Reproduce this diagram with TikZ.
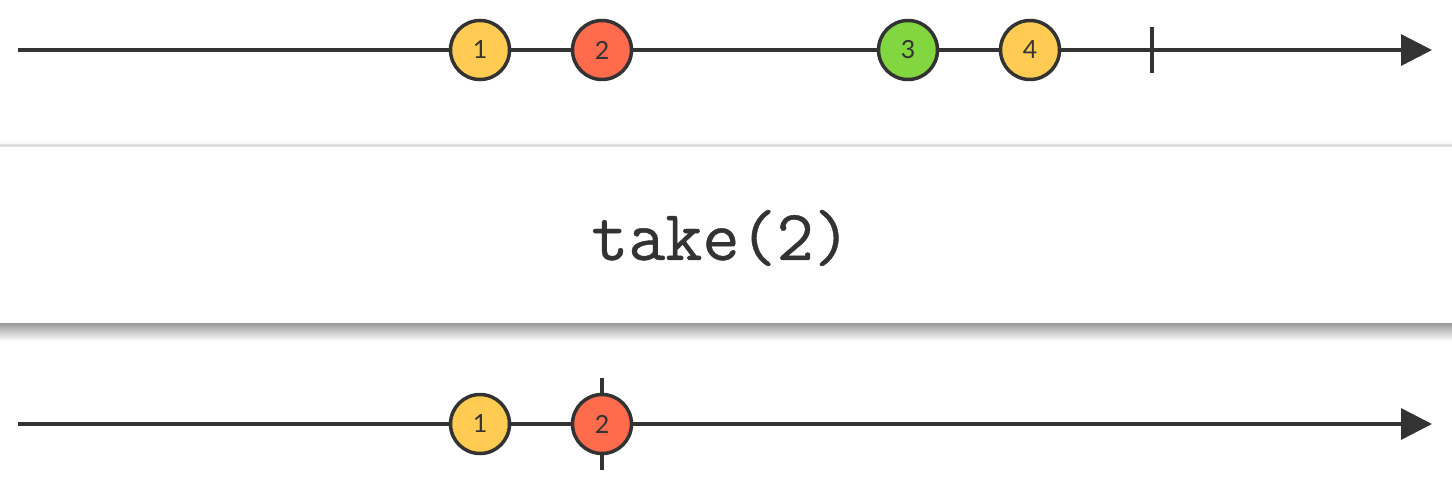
\documentclass[tikz,border=0pt]{standalone}
\usepackage{fontspec}
\setmainfont{Lato}
\newfontfamily\opfont[FakeBold=0.6]{Latin Modern Mono}
\usetikzlibrary{arrows.meta}

\definecolor{ink}{HTML}{333333}
\definecolor{yel}{HTML}{FFCB52}
\definecolor{red}{HTML}{FF6B4D}
\definecolor{grn}{HTML}{82D63F}

\tikzset{
    marble/.style={circle, draw=ink, line width=3.5pt, minimum size=59pt, inner sep=0pt,
        text=ink, font=\fontsize{25}{25}\selectfont},
    timeline/.style={draw=ink, line width=3.5pt, -{Triangle[length=31pt,width=31pt]}},
    donetick/.style={draw=ink, line width=3.5pt}
}

\begin{document}
\begin{tikzpicture}[x=1pt, y=-1pt]
    \useasboundingbox[fill=white] (0,0) rectangle (1452,482);

    % operator box
    \shade[top color=white, bottom color=black!4] (0,138) rectangle (1452,144);
    \fill[black!13] (0,144) rectangle (1452,147);
    \shade[top color=black!40, bottom color=white] (0,323) rectangle (1452,341);
    \node[font=\opfont\fontsize{72}{72}\selectfont, text=ink] (op) at (721,238) {take(2)};

    % input
    \coordinate (inStart) at (18,50);
    \coordinate (inEnd) at (1432,50);
    \coordinate (inDone) at (1152,50);
    \draw[timeline] (inStart) -- (inEnd);
    \draw[donetick] (inDone) ++(0,-23) -- ++(0,46);
    \foreach \i/\x/\c in {1/480/yel, 2/602/red, 3/908/grn, 4/1030/yel}
        \node[marble, fill=\c] (in\i) at (\x,50) {\i};

    % output
    \coordinate (outStart) at (18,424);
    \coordinate (outEnd) at (1432,424);
    \coordinate (outDone) at (602,424);
    \draw[timeline] (outStart) -- (outEnd);
    \draw[donetick] (outDone) ++(0,-46) -- ++(0,92);
    \foreach \i/\x/\c in {1/480/yel, 2/602/red}
        \node[marble, fill=\c] (out\i) at (\x,424) {\i};
\end{tikzpicture}
\end{document}
